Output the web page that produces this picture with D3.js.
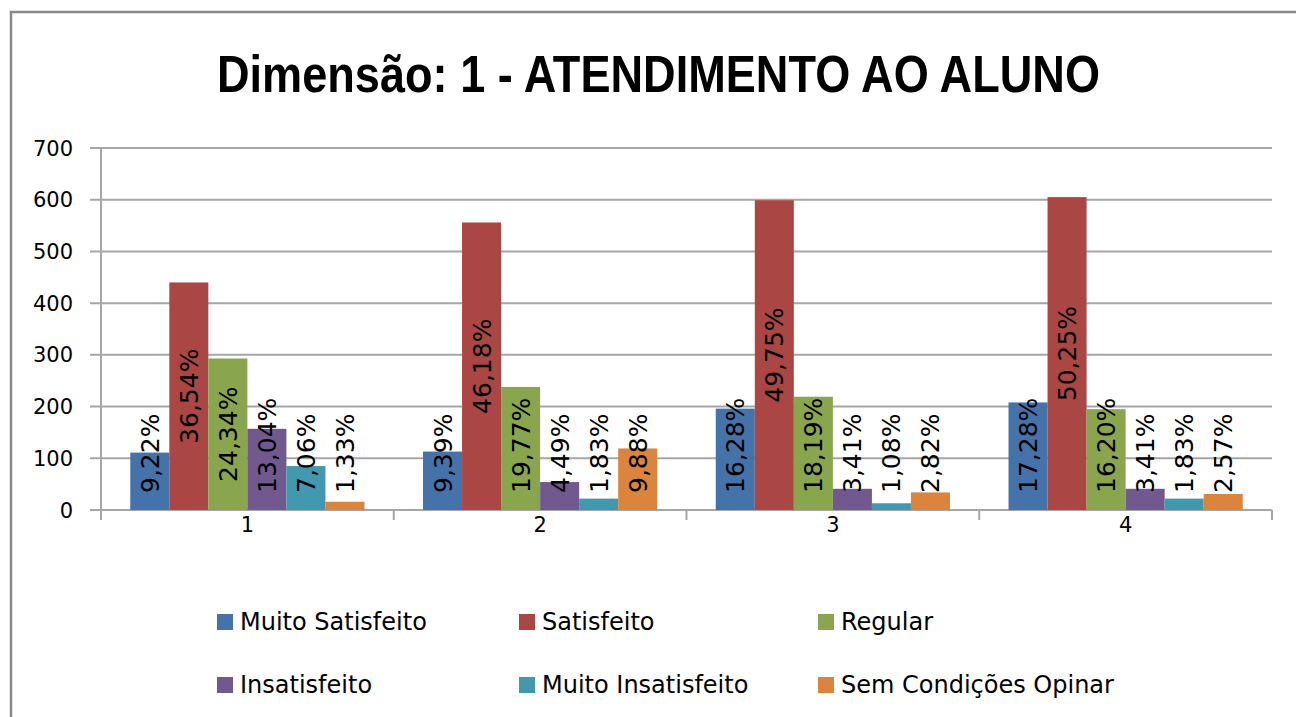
<!DOCTYPE html>
<html>
<head>
<meta charset="utf-8">
<style>
  body { margin: 0; background: #fff; }
  svg { display: block; }
</style>
<script src="https://cdn.jsdelivr.net/npm/d3@7"></script>
</head>
<body>
<svg id="chart"></svg>
<script>
// data
const categories = ["1", "2", "3", "4"];
const series = ["Muito Satisfeito", "Satisfeito", "Regular", "Insatisfeito", "Muito Insatisfeito", "Sem Condições Opinar"];
const muitoSatisfeito = [111, 113, 196, 208];
const satisfeito = [440, 556, 599, 605];
const regular = [293, 238, 219, 195];
const insatisfeito = [157, 54, 41, 41];
const muitoInsatisfeito = [85, 22, 13, 22];
const semCondicoes = [16, 119, 34, 31];
const pctLabels = [
  ["9,22%", "36,54%", "24,34%", "13,04%", "7,06%", "1,33%"],
  ["9,39%", "46,18%", "19,77%", "4,49%", "1,83%", "9,88%"],
  ["16,28%", "49,75%", "18,19%", "3,41%", "1,08%", "2,82%"],
  ["17,28%", "50,25%", "16,20%", "3,41%", "1,83%", "2,57%"]
];
const yTicks = [0, 100, 200, 300, 400, 500, 600, 700];
const colors = ["#4672aa", "#aa4644", "#89a64e", "#71588f", "#4298af", "#db843d"];

const values = [muitoSatisfeito, satisfeito, regular, insatisfeito, muitoInsatisfeito, semCondicoes];

const width = 1296, height = 717;
const plot = { left: 101, right: 1272, top: 148, bottom: 510 };

const svg = d3.select("#chart").attr("width", width).attr("height", height);

// outer frame (only top and left visible)
svg.append("path")
  .attr("d", `M11,${height} L11,12 L${width},12`)
  .attr("fill", "none")
  .attr("stroke", "#888")
  .attr("stroke-width", 2.5);

// title
svg.append("text")
  .attr("x", 217).attr("y", 92)
  .attr("textLength", 883)
  .attr("lengthAdjust", "spacingAndGlyphs")
  .style("font-family", "'Liberation Sans', Arial, sans-serif")
  .style("font-weight", "bold")
  .style("font-size", "52px")
  .text("Dimensão: 1 - ATENDIMENTO AO ALUNO");

const y = d3.scaleLinear().domain([0, 700]).range([plot.bottom, plot.top]);
const x0 = d3.scaleBand().domain(categories).range([plot.left, plot.right]).padding(0);
const x1 = d3.scaleBand().domain(series).range([0, x0.bandwidth()])
  .paddingInner(0).paddingOuter(0.75);

// gridlines
svg.append("g").selectAll("line").data(yTicks).enter().append("line")
  .attr("x1", plot.left - 11).attr("x2", plot.right)
  .attr("y1", d => y(d)).attr("y2", d => y(d))
  .attr("stroke", "#a6a6a6").attr("stroke-width", 2);

// y axis line
svg.append("line")
  .attr("x1", plot.left).attr("x2", plot.left)
  .attr("y1", plot.top).attr("y2", plot.bottom + 10)
  .attr("stroke", "#a6a6a6").attr("stroke-width", 2);

// y tick labels
svg.append("g").selectAll("text").data(yTicks).enter().append("text")
  .attr("x", 73).attr("y", d => y(d))
  .attr("dy", "0.36em")
  .attr("text-anchor", "end")
  .style("font-family", "'DejaVu Sans', sans-serif")
  .style("font-size", "21px")
  .text(d => d);

// category boundary ticks
const bounds = categories.map(c => x0(c)).concat([plot.right]);
svg.append("g").selectAll("line").data(bounds).enter().append("line")
  .attr("x1", d => d).attr("x2", d => d)
  .attr("y1", plot.bottom).attr("y2", plot.bottom + 10)
  .attr("stroke", "#a6a6a6").attr("stroke-width", 2);

// category labels
svg.append("g").selectAll("text").data(categories).enter().append("text")
  .attr("x", d => x0(d) + x0.bandwidth() / 2)
  .attr("y", 532)
  .attr("text-anchor", "middle")
  .style("font-family", "'DejaVu Sans', sans-serif")
  .style("font-size", "21px")
  .text(d => d);

// bars
const barData = [];
categories.forEach((c, ci) => {
  series.forEach((s, si) => {
    barData.push({ cat: c, ser: s, si: si, value: values[si][ci], label: pctLabels[ci][si] });
  });
});

svg.append("g").selectAll("rect").data(barData).enter().append("rect")
  .attr("x", d => x0(d.cat) + x1(d.ser))
  .attr("y", d => y(d.value))
  .attr("width", x1.bandwidth())
  .attr("height", d => y(0) - y(d.value))
  .attr("fill", d => colors[d.si]);

// bar labels, rotated, centred in the bar but kept above the axis
const labels = svg.append("g").selectAll("text").data(barData).enter().append("text")
  .attr("text-anchor", "middle")
  .attr("dy", "0.36em")
  .style("font-family", "'DejaVu Sans', sans-serif")
  .style("font-size", "25px")
  .attr("fill", "#000")
  .text(d => d.label);

labels.each(function(d) {
  let len = this.getComputedTextLength();
  let cx = x0(d.cat) + x1(d.ser) + x1.bandwidth() / 2;
  let mid = (y(d.value) + y(0)) / 2;
  let cy = Math.min(mid, 493 - len / 2);
  d3.select(this).attr("transform", `translate(${cx},${cy}) rotate(-90)`);
});

// legend
const legendPos = [[217, 614], [519, 614], [818, 614], [217, 677], [519, 677], [818, 677]];
const legend = svg.append("g").selectAll("g").data(series).enter().append("g")
  .attr("transform", (d, i) => `translate(${legendPos[i][0]},${legendPos[i][1]})`);
legend.append("rect")
  .attr("width", 16).attr("height", 16)
  .attr("fill", (d, i) => colors[i]);
legend.append("text")
  .attr("x", 23).attr("y", 16)
  .style("font-family", "'DejaVu Sans', sans-serif")
  .style("font-size", "24px")
  .text(d => d);
</script>
</body>
</html>
